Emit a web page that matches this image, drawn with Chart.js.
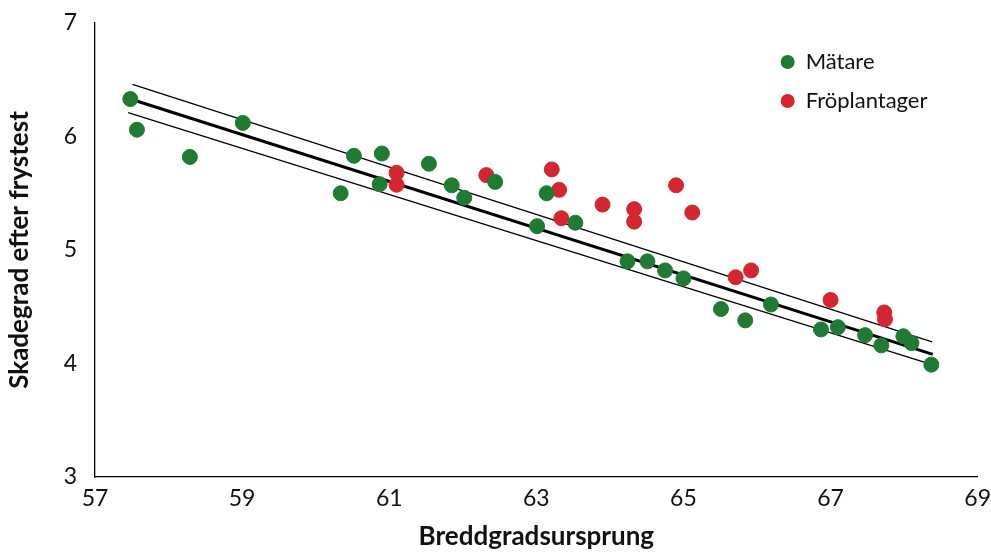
<!DOCTYPE html>
<html>
<head>
<meta charset="utf-8">
<script src="https://cdn.jsdelivr.net/npm/chart.js@4.4.1/dist/chart.umd.min.js"></script>
<style>
  html, body { margin: 0; padding: 0; background: #fff; }
  #wrap { width: 991px; height: 552px; position: relative; }
</style>
</head>
<body>
<div id="wrap"><canvas id="chart"></canvas></div>
<script>
// Mätare (green) – latitude of origin vs damage score
const matareX = [57.48, 57.57, 58.29, 59.01, 60.34, 60.52, 60.90, 60.87, 61.54, 61.85, 62.02, 62.44, 63.14, 63.01, 63.53, 64.24, 64.51, 64.75, 65.00, 65.51, 65.84, 66.19, 66.87, 67.10, 67.47, 67.69, 67.99, 68.10, 68.37];
const matareY = [6.33, 6.06, 5.82, 6.12, 5.50, 5.83, 5.85, 5.58, 5.76, 5.57, 5.46, 5.60, 5.50, 5.21, 5.24, 4.90, 4.90, 4.82, 4.75, 4.48, 4.38, 4.52, 4.30, 4.32, 4.25, 4.16, 4.24, 4.18, 3.99];

// Fröplantager (red)
const froX = [61.10, 61.10, 62.32, 63.21, 63.31, 63.34, 63.90, 64.33, 64.33, 64.90, 65.12, 65.71, 65.92, 67.00, 67.73, 67.74];
const froY = [5.68, 5.575, 5.66, 5.71, 5.53, 5.28, 5.40, 5.36, 5.25, 5.57, 5.33, 4.76, 4.82, 4.56, 4.45, 4.39];

// regression line and its bands (end points)
const fitX = [57.48, 68.39];
const fitY = [6.33, 4.08];
const upperX = [57.51, 68.38];
const upperY = [6.46, 4.19];
const lowerX = [57.45, 68.38];
const lowerY = [6.21, 3.99];

const xTicks = [57, 59, 61, 63, 65, 67, 69];
const yTicks = [3, 4, 5, 6, 7];

const green = '#217a34';
const red = '#d42630';

const pts = (xs, ys) => xs.map((x, i) => ({ x: x, y: ys[i] }));

const lineSet = (label, xs, ys, w) => ({
    label: label,
    data: pts(xs, ys),
    showLine: true,
    borderColor: '#000',
    borderWidth: w,
    pointRadius: 0,
    fill: false,
    order: 2,
    hideInLegend: true
});

// legend drawn inside the plot area, top right
const innerLegend = {
    id: 'innerLegend',
    afterDraw(chart) {
        const ctx = chart.ctx;
        const area = chart.chartArea;
        let y = area.top + 39;
        chart.data.datasets.forEach(ds => {
            if (ds.hideInLegend) return;
            ctx.save();
            ctx.fillStyle = ds.backgroundColor;
            ctx.beginPath();
            ctx.arc(area.right - 190, y, 7, 0, Math.PI * 2);
            ctx.fill();
            ctx.fillStyle = '#111';
            ctx.font = '22px Lato';
            ctx.textBaseline = 'middle';
            ctx.textAlign = 'left';
            ctx.fillText(ds.label, area.right - 172, y);
            ctx.restore();
            y += 39;
        });
    }
};

// invisible tick marks are used only to push labels away from the axis
const hiddenGrid = len => ({
    display: true,
    drawOnChartArea: false,
    drawTicks: true,
    tickLength: len,
    color: 'rgba(0,0,0,0)'
});

const ctx = document.getElementById('chart').getContext('2d');

new Chart(ctx, {
    type: 'scatter',
    data: {
        datasets: [
            {
                label: 'Mätare',
                data: pts(matareX, matareY),
                backgroundColor: green,
                borderColor: green,
                pointRadius: 7.5,
                order: 0
            },
            {
                label: 'Fröplantager',
                data: pts(froX, froY),
                backgroundColor: red,
                borderColor: red,
                pointRadius: 7.5,
                order: 1
            },
            lineSet('fit', fitX, fitY, 3),
            lineSet('upper', upperX, upperY, 1.3),
            lineSet('lower', lowerX, lowerY, 1.3)
        ]
    },
    options: {
        responsive: true,
        maintainAspectRatio: false,
        animation: false,
        layout: { padding: { top: 23, right: 13, left: 0, bottom: 0 } },
        plugins: {
            legend: { display: false },
            tooltip: { enabled: false }
        },
        scales: {
            x: {
                type: 'linear',
                min: 57,
                max: 69,
                afterBuildTicks: s => { s.ticks = xTicks.map(v => ({ value: v })); },
                grid: hiddenGrid(8),
                border: { display: true, color: '#000', width: 1.3 },
                ticks: { color: '#111', font: { family: 'Lato', size: 23 }, padding: 0, maxRotation: 0 },
                title: {
                    display: true,
                    text: 'Breddgradsursprung',
                    color: '#111',
                    font: { family: 'Lato', size: 26, weight: 'bold' },
                    padding: { top: 0, bottom: 0 }
                },
                afterFit: s => { s.height = 75; }
            },
            y: {
                type: 'linear',
                min: 3,
                max: 7,
                afterBuildTicks: s => { s.ticks = yTicks.map(v => ({ value: v })); },
                grid: hiddenGrid(14),
                border: { display: true, color: '#000', width: 1.3 },
                ticks: { color: '#111', font: { family: 'Lato', size: 23 }, padding: 4 },
                title: {
                    display: true,
                    text: 'Skadegrad efter frystest',
                    color: '#111',
                    font: { family: 'Lato', size: 26, weight: 'bold' },
                    padding: { top: 4, bottom: 0 }
                },
                afterFit: s => { s.width = 95; }
            }
        }
    },
    plugins: [innerLegend]
});
</script>
</body>
</html>
